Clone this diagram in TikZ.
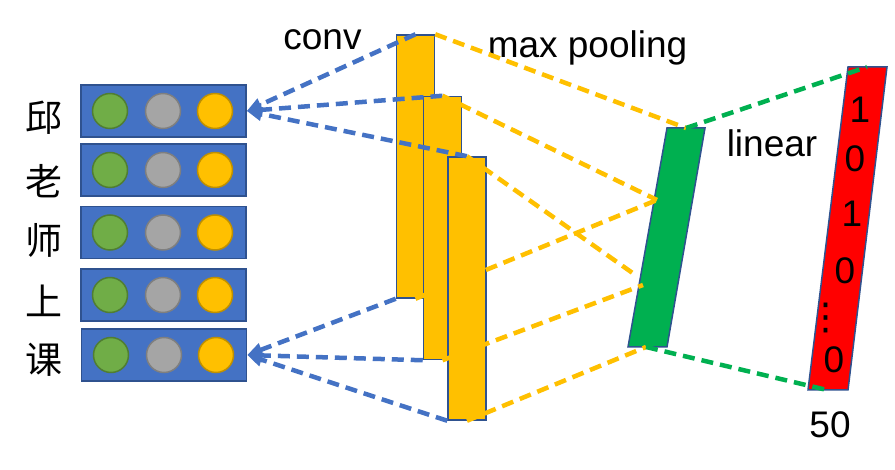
\documentclass[tikz,border=0pt]{standalone}
\usepackage{fontspec}
\setmainfont{Liberation Sans}
\newfontfamily\cjk{Noto Sans CJK SC}
\newfontfamily\dejavu{DejaVu Sans}
\usetikzlibrary{arrows.meta}
\definecolor{wordblue}{HTML}{4472C4}
\definecolor{edgeblue}{HTML}{2F528F}
\definecolor{dotgreen}{HTML}{70AD47}
\definecolor{dotgreenedge}{HTML}{507E32}
\definecolor{dotgray}{HTML}{A5A5A5}
\definecolor{dotgrayedge}{HTML}{7F7F7F}
\definecolor{dotyellow}{HTML}{FFC000}
\definecolor{dotyellowedge}{HTML}{BF9000}
\definecolor{lingreen}{HTML}{00B050}
\begin{document}
\begin{tikzpicture}[x=1pt,y=-1pt]
\tikzstyle{every node}+=[inner sep=0pt]
\tikzstyle{txt}=[font=\fontsize{37}{44}\selectfont, anchor=base]
\tikzstyle{ch}=[font=\cjk\fontsize{37}{44}\selectfont, anchor=base]
\tikzstyle{wordbox}=[draw=edgeblue, fill=wordblue, line width=1.5pt, minimum width=165pt, minimum height=52pt]
\tikzstyle{dot}=[circle, line width=1.5pt, minimum size=35pt]
\tikzstyle{convbox}=[draw=edgeblue, fill=dotyellow, line width=1.5pt, minimum width=38pt, minimum height=263pt]
\tikzstyle{dashline}=[line width=4.5pt, dash pattern=on 12pt off 7pt]
\tikzstyle{convline}=[dashline, wordblue, -{Triangle[length=15pt,width=13pt]}]
\tikzstyle{poolline}=[dashline, dotyellow]
\tikzstyle{linline}=[dashline, lingreen]
\useasboundingbox (0,0) rectangle (895,470);
% word vectors
\node [wordbox] (w1) at (163.5,111) {};
\node [wordbox] (w2) at (163.5,170) {};
\node [wordbox] (w3) at (163.5,232.5) {};
\node [wordbox] (w4) at (163.5,295) {};
\node [wordbox] (w5) at (164,355) {};
\node [dot, draw=dotgreenedge, fill=dotgreen] (g1) at (110,111) {};
\node [dot, draw=dotgrayedge, fill=dotgray] (s1) at (163,111) {};
\node [dot, draw=dotyellowedge, fill=dotyellow] (y1) at (215,111) {};
\node [dot, draw=dotgreenedge, fill=dotgreen] (g2) at (110,170) {};
\node [dot, draw=dotgrayedge, fill=dotgray] (s2) at (163,170) {};
\node [dot, draw=dotyellowedge, fill=dotyellow] (y2) at (215,170) {};
\node [dot, draw=dotgreenedge, fill=dotgreen] (g3) at (110,232.5) {};
\node [dot, draw=dotgrayedge, fill=dotgray] (s3) at (163,232.5) {};
\node [dot, draw=dotyellowedge, fill=dotyellow] (y3) at (215,232.5) {};
\node [dot, draw=dotgreenedge, fill=dotgreen] (g4) at (110,295) {};
\node [dot, draw=dotgrayedge, fill=dotgray] (s4) at (163,295) {};
\node [dot, draw=dotyellowedge, fill=dotyellow] (y4) at (215,295) {};
\node [dot, draw=dotgreenedge, fill=dotgreen] (g5) at (111,355) {};
\node [dot, draw=dotgrayedge, fill=dotgray] (s5) at (164,355) {};
\node [dot, draw=dotyellowedge, fill=dotyellow] (y5) at (216,355) {};
\node [ch] (ch1) at (44,132) {邱};
\node [ch] (ch2) at (44,195.5) {老};
\node [ch] (ch3) at (44,255) {师};
\node [ch] (ch4) at (44,316) {上};
\node [ch] (ch5) at (44,374) {课};
% conv feature maps
\node [convbox] (c1) at (415.5,166.5) {};
\node [convbox] (c2) at (442.5,228) {};
\node [convbox] (c3) at (467,288.5) {};
% linear layer and output
\draw [edgeblue, fill=lingreen, line width=1.5pt] (667,128) -- (705,128) -- (667,347) -- (628,347) -- cycle;
\coordinate (lin-n) at (686,128);
\coordinate (lin-a) at (657,200);
\coordinate (lin-b) at (634,274);
\coordinate (lin-c) at (643,285);
\coordinate (lin-s) at (646,347);
\draw [edgeblue, fill=red, line width=1.5pt] (848,67) -- (887,67) -- (848,390) -- (808,390) -- cycle;
\coordinate (out-n) at (867,67);
\coordinate (out-s) at (827,390);
\node [txt] (b1) at (860,123) {1};
\node [txt] (b2) at (855,172) {0};
\node [txt] (b3) at (852,227) {1};
\node [txt] (b4) at (845,284) {0};
\node [font=\dejavu\fontsize{37}{44}\selectfont] (bdots) at (825.5,318) {⋮};
\node [txt] (b5) at (834,373) {0};
% labels
\node [txt] (conv) at (322.5,50) {conv};
\node [txt] (pool) at (587.5,58) {max pooling};
\node [txt] (linear) at (772,157) {linear};
\node [txt] (dim) at (830,438) {50};
% connectors
\draw [convline] (c1.north) -- (w1.east);
\draw [convline] (c2.north) -- (w1.east);
\draw [convline] (c3.north) -- (w1.east);
\draw [convline] (c1.south west) -- (w5.east);
\draw [convline] (c2.south west) -- (w5.east);
\draw [convline] (c3.south west) -- (w5.east);
\draw [poolline] (c1.north east) -- (lin-n);
\draw [poolline] (c2.north) -- (lin-a);
\draw [poolline] (c3.north) -- (lin-b);
\draw [poolline] (c1.south) -- (lin-a);
\draw [poolline] (c2.south) -- (lin-c);
\draw [poolline] (c3.south) -- (lin-s);
\draw [linline] (lin-n) -- (out-n);
\draw [linline] (lin-s) -- (out-s);
\end{tikzpicture}
\end{document}
